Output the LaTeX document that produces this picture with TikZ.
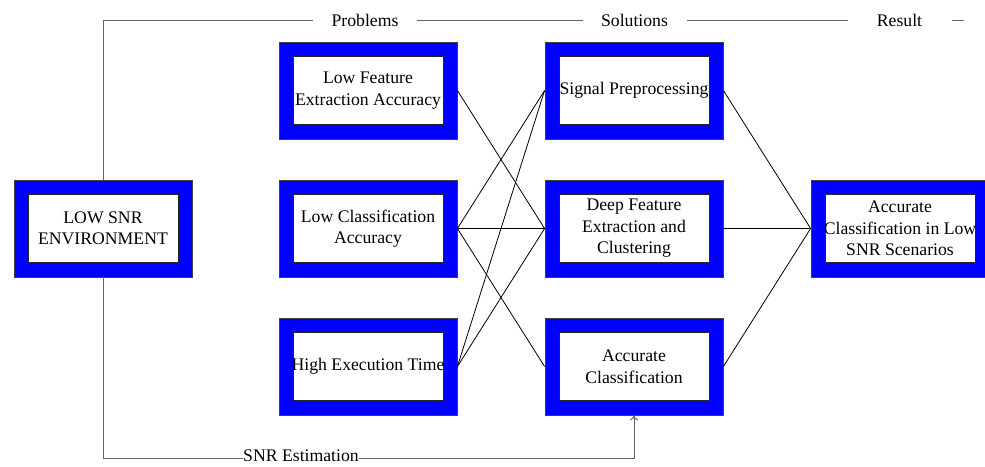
\documentclass[tikz,border=0pt]{standalone}
\usepackage{fontspec}
\setmainfont{Liberation Serif}
\newfontfamily\diagfont{Liberation Serif}
\usetikzlibrary{arrows.meta}
\tikzset{
  blockbox/.style={draw=black!75, line width=0.8pt, fill=blue, minimum width=178pt, minimum height=97pt,
    inner sep=0pt, align=center, font=\diagfont\fontsize{17.7}{21.5}\selectfont,
    path picture={\draw[fill=white, draw=black!85, line width=0.8pt]
      ([shift={(14pt,15pt)}]path picture bounding box.south west) rectangle
      ([shift={(-14pt,-14pt)}]path picture bounding box.north east);}},
  link/.style={draw=black, line width=0.8pt},
  frameline/.style={draw=black!60, line width=1pt},
  headlabel/.style={fill=white, inner sep=0pt, minimum width=104pt, minimum height=16pt, font=\diagfont\fontsize{17.7}{21.5}\selectfont},
  footlabel/.style={fill=white, inner xsep=0.5pt, inner ysep=1pt, font=\diagfont\fontsize{17.7}{21.5}\selectfont}
}
\begin{document}
\begin{tikzpicture}[x=1pt, y=-1pt]
\useasboundingbox (0,0) rectangle (985,466);
% boxes
\node[blockbox] (lowsnr) at (103,228.5) {LOW SNR\\ENVIRONMENT};
\node[blockbox] (p1) at (368,90.5) {Low Feature\\Extraction Accuracy};
\node[blockbox] (p2) at (368,228.5) {Low Classification\\Accuracy};
\node[blockbox] (p3) at (368,366.5) {High Execution Time};
\node[blockbox] (s1) at (634,90.5) {Signal Preprocessing};
\node[blockbox] (s2) at (634,228.5) {Deep Feature\\Extraction and\\Clustering};
\node[blockbox] (s3) at (634,366.5) {Accurate\\Classification};
\node[blockbox] (res) at (900,228.5) {Accurate\\Classification in Low\\SNR Scenarios};
% connectors
\draw[link] (p1.east) -- (s2.west);
\draw[link] (p2.east) -- (s1.west);
\draw[link] (p2.east) -- (s2.west);
\draw[link] (p2.east) -- (s3.west);
\draw[link] (p3.east) -- (s1.west);
\draw[link] (p3.east) -- (s2.west);
\draw[link] (s1.east) -- (res.west);
\draw[link] (s2.east) -- (res.west);
\draw[link] (s3.east) -- (res.west);
% header line
\coordinate (topend) at (964,20);
\draw[frameline] (lowsnr.north) |- (topend);
\node[headlabel] (problems) at (365,20) {Problems};
\node[headlabel] (solutions) at (634.5,20) {Solutions};
\node[headlabel] (result) at (899.5,20) {Result};
% bottom line
\coordinate (botcorner) at (634,458);
\draw[frameline, -{To[length=5pt,width=8pt]}] (lowsnr.south) |- (botcorner) -- (s3.south);
\node[footlabel] (snrest) at (301,456) {SNR Estimation};
\end{tikzpicture}
\end{document}
